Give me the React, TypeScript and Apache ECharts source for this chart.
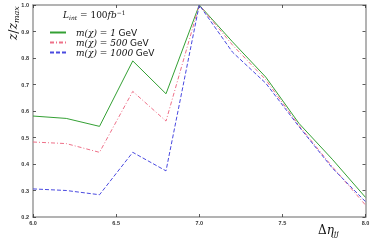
import React, { useEffect, useRef } from "react";
import * as echarts from "echarts";

const xValues = [6.0, 6.2, 6.4, 6.6, 6.8, 7.0, 7.2, 7.4, 7.6, 7.8, 8.0];
const green1GeV = [0.581, 0.572, 0.542, 0.789, 0.665, 1.0, 0.861, 0.728, 0.553, 0.418, 0.274];
const red500GeV = [0.483, 0.477, 0.444, 0.674, 0.562, 1.0, 0.849, 0.718, 0.545, 0.39, 0.245];
const blue1000GeV = [0.306, 0.3, 0.284, 0.444, 0.374, 1.0, 0.822, 0.705, 0.541, 0.385, 0.258];
const seriesNames = ["m(χ)=1 GeV", "m(χ)=500 GeV", "m(χ)=1000 GeV"];

export default function App() {
  const ref = useRef<HTMLDivElement>(null);
  useEffect(() => {
    const chart = echarts.init(ref.current!, null, { renderer: "svg" });
    const mk = (vals: number[]) => xValues.map((x, i) => [x, vals[i]]);
    const axisLine = { show: true, lineStyle: { color: "#9a9a9a", width: 1.5 } };
    const tick = { show: true, inside: true, length: 3, lineStyle: { color: "#333", width: 0.8 } };
    chart.setOption({
      animation: false,
      grid: { left: 33, right: 8.5, top: 5, bottom: 25 },
      xAxis: [
        {
          type: "value", min: 6.0, max: 8.0, interval: 0.5,
          axisLine, axisTick: tick, splitLine: { show: false },
          axisLabel: { fontSize: 5.5, fontWeight: "bold", color: "#333", margin: 3, formatter: (v: number) => v.toFixed(1) },
        },
        {
          type: "value", position: "top", min: 6.0, max: 8.0, interval: 0.5,
          axisLine, axisTick: tick, splitLine: { show: false }, axisLabel: { show: false },
        },
      ],
      yAxis: [
        {
          type: "value", min: 0.2, max: 1.0, interval: 0.1,
          axisLine, axisTick: tick, splitLine: { show: false },
          axisLabel: { fontSize: 5.5, fontWeight: "bold", color: "#333", margin: 4, formatter: (v: number) => v.toFixed(1) },
        },
        {
          type: "value", position: "right", min: 0.2, max: 1.0, interval: 0.1,
          axisLine, axisTick: tick, splitLine: { show: false }, axisLabel: { show: false },
        },
      ],
      legend: {
        orient: "vertical", left: 44, top: 23, itemWidth: 16, itemHeight: 8, itemGap: 1,
        itemStyle: { opacity: 0 },
        textStyle: {
          fontSize: 9, color: "#111", padding: [0, 0, 0, 5],
          rich: {
            it: { fontFamily: "DejaVu Serif", fontStyle: "italic", fontSize: 9, color: "#111" },
            rm: { fontFamily: "DejaVu Sans", fontSize: 9, color: "#111" },
          },
        },
        formatter: (name: string) => {
          const m = name.match(/^m\(χ\)=(\d+) GeV$/);
          return m ? `{it|m(χ) = ${m[1]}} {rm|GeV}` : name;
        },
        data: seriesNames,
      },
      series: [
        { name: seriesNames[0], type: "line", data: mk(green1GeV), symbol: "none", lineStyle: { color: "#34a034", width: 1 }, itemStyle: { color: "#34a034" } },
        { name: seriesNames[1], type: "line", data: mk(red500GeV), symbol: "none", lineStyle: { color: "#ee7088", width: 1, type: [4, 2, 1, 2] }, itemStyle: { color: "#ee7088" } },
        { name: seriesNames[2], type: "line", data: mk(blue1000GeV), symbol: "none", lineStyle: { color: "#4a4ae0", width: 1, type: [4, 2] }, itemStyle: { color: "#4a4ae0" } },
      ],
      graphic: [
        {
          type: "text", left: 63, top: 9,
          style: {
            text: "{i|L}{s|int}{n| = 100}{i|fb}{p|−1}",
            rich: {
              i: { fontFamily: "DejaVu Serif", fontStyle: "italic", fontSize: 9, fill: "#111" },
              s: { fontFamily: "DejaVu Serif", fontStyle: "italic", fontSize: 6, fill: "#111", padding: [5, 0, 0, 0] },
              n: { fontFamily: "DejaVu Serif", fontSize: 9, fill: "#111" },
              p: { fontFamily: "DejaVu Serif", fontSize: 6, fill: "#111", padding: [0, 0, 5, 0] },
            },
          },
        },
        {
          type: "text", x: 6, y: 40, rotation: Math.PI / 2,
          style: {
            text: "{i|z}{n|/}{i|z}{s|max}",
            rich: {
              i: { fontFamily: "DejaVu Serif", fontStyle: "italic", fontSize: 12, fill: "#111" },
              n: { fontFamily: "DejaVu Serif", fontSize: 13, fill: "#111" },
              s: { fontFamily: "DejaVu Serif", fontStyle: "italic", fontSize: 8, fill: "#111", padding: [6, 0, 0, 0] },
            },
          },
        },
        {
          type: "text", left: 318, top: 224,
          style: {
            text: "{n|Δ}{i|η}{s|jj}",
            rich: {
              n: { fontFamily: "DejaVu Serif", fontSize: 12, fill: "#111" },
              i: { fontFamily: "DejaVu Serif", fontStyle: "italic", fontSize: 12, fill: "#111" },
              s: { fontFamily: "DejaVu Serif", fontStyle: "italic", fontSize: 8, fill: "#111", padding: [6, 0, 0, 0] },
            },
          },
        },
      ],
    });
    return () => chart.dispose();
  }, []);
  return <div ref={ref} style={{ position: "fixed", left: 0, top: 0, width: 374, height: 242 }} />;
}
